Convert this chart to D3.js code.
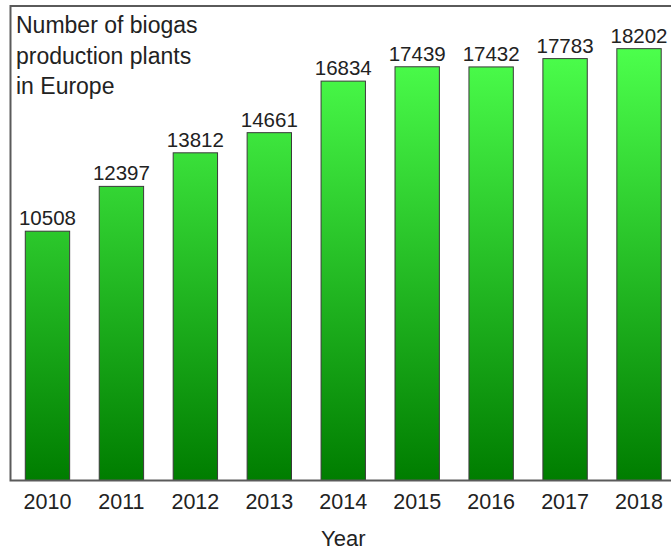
<!DOCTYPE html>
<html>
<head>
<meta charset="utf-8">
<script src="https://cdn.jsdelivr.net/npm/d3@7"></script>
<style>
  html, body { margin: 0; padding: 0; background: #fff; }
  svg { display: block; font-family: "Liberation Sans", Arial, sans-serif; }
</style>
</head>
<body>
<svg id="chart" width="671" height="553"></svg>
<script>
// Biogas production plants in Europe, by year
const years = ["2010", "2011", "2012", "2013", "2014", "2015", "2016", "2017", "2018"];
const plants = [10508, 12397, 13812, 14661, 16834, 17439, 17432, 17783, 18202];
const titleLines = ["Number of biogas", "production plants", "in Europe"];
const xTitle = "Year";

const svg = d3.select("#chart");
const frame = { left: 10.5, top: 6, right: 676, bottom: 480.5 };

const x = d3.scaleBand()
  .domain(years)
  .range([frame.left, frame.right])
  .paddingInner(0.4)
  .paddingOuter(0.2);

const y = d3.scaleLinear()
  .domain([0, 20000])
  .range([frame.bottom, frame.top]);

// Vertical gradient for the bars: bright green at the top to dark green at the base
const defs = svg.append("defs");
const grad = defs.append("linearGradient")
  .attr("id", "barGrad")
  .attr("gradientUnits", "userSpaceOnUse")
  .attr("x1", 0).attr("x2", 0)
  .attr("y1", y(18202)).attr("y2", frame.bottom);
grad.append("stop").attr("offset", "0%").attr("stop-color", "#4cff4c");
grad.append("stop").attr("offset", "100%").attr("stop-color", "#007d00");

// Bars
svg.append("g")
  .selectAll("rect")
  .data(years.map((yr, i) => ({ yr, v: plants[i] })))
  .join("rect")
  .attr("x", d => x(d.yr))
  .attr("y", d => y(d.v))
  .attr("width", x.bandwidth())
  .attr("height", d => y(0) - y(d.v))
  .attr("fill", "url(#barGrad)")
  .attr("stroke", "#3a3a3a")
  .attr("stroke-width", 1);

// Value labels above bars
svg.append("g")
  .selectAll("text")
  .data(years.map((yr, i) => ({ yr, v: plants[i] })))
  .join("text")
  .attr("x", d => x(d.yr) + x.bandwidth() / 2)
  .attr("y", d => y(d.v) - 6)
  .attr("text-anchor", "middle")
  .attr("font-size", 20.5)
  .attr("fill", "#222")
  .text(d => d.v);

// Frame around the plot area
svg.append("rect")
  .attr("x", frame.left)
  .attr("y", frame.top)
  .attr("width", frame.right - frame.left)
  .attr("height", frame.bottom - frame.top)
  .attr("fill", "none")
  .attr("stroke", "#5a5a5a")
  .attr("stroke-width", 2);

// Bottom axis with year labels (no tick marks)
const xAxis = d3.axisBottom(x).tickSize(0).tickPadding(13);
const axisG = svg.append("g")
  .attr("transform", `translate(0,${frame.bottom})`)
  .call(xAxis);
axisG.select(".domain").remove();
axisG.selectAll("text")
  .attr("font-size", 21.5)
  .attr("font-family", "Liberation Sans, Arial, sans-serif")
  .attr("fill", "#222");

// Axis title
svg.append("text")
  .attr("x", (frame.left + frame.right) / 2)
  .attr("y", 546)
  .attr("text-anchor", "middle")
  .attr("font-size", 22)
  .attr("fill", "#222")
  .text(xTitle);

// Chart title in the upper-left corner
svg.append("g")
  .selectAll("text")
  .data(titleLines)
  .join("text")
  .attr("x", 16)
  .attr("y", (d, i) => 33 + i * 30.5)
  .attr("font-size", 23)
  .attr("fill", "#222")
  .text(d => d);
</script>
</body>
</html>
